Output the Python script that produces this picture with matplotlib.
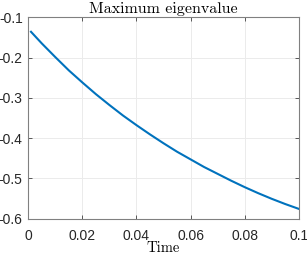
import matplotlib
matplotlib.use("Agg")
import matplotlib.pyplot as plt
import numpy as np

# values
time = [0.001, 0.005, 0.01, 0.015, 0.02, 0.025, 0.03, 0.035, 0.04, 0.045, 0.05,
        0.055, 0.06, 0.065, 0.07, 0.075, 0.08, 0.085, 0.09, 0.095, 0.1]
eig_max = [-0.136, -0.165, -0.199, -0.232, -0.262, -0.291, -0.318, -0.344, -0.368,
           -0.391, -0.413, -0.434, -0.453, -0.472, -0.489, -0.506, -0.522, -0.537,
           -0.551, -0.564, -0.576]
xticks = [0, 0.02, 0.04, 0.06, 0.08, 0.1]
yticks = [-0.6, -0.5, -0.4, -0.3, -0.2, -0.1]

fig = plt.figure(figsize=(3.07, 2.54), dpi=100)
ax = fig.add_axes([28.3 / 307, 1 - 218.5 / 254, 270.4 / 307, 201.2 / 254])

ax.plot(time, eig_max, color='#0072BD', linewidth=1.5)
ax.set_xlim(0, 0.1)
ax.set_ylim(-0.6, -0.1)
ax.set_xticks(xticks)
ax.set_xticklabels(['0', '0.02', '0.04', '0.06', '0.08', '0.1'])
ax.set_yticks(yticks)
ax.set_yticklabels(['-0.6', '-0.5', '-0.4', '-0.3', '-0.2', '-0.1'])

ax.grid(True, color='#ebebeb', linewidth=0.7)
ax.set_axisbelow(True)
ax.tick_params(direction='in', length=3, width=0.6, colors='#404040',
               top=True, right=True, labelsize=10, labelcolor='#262626')
ax.tick_params(axis='x', pad=7.5)
ax.tick_params(axis='y', pad=4)
for lab in ax.get_xticklabels() + ax.get_yticklabels():
    lab.set_fontfamily('Liberation Sans')
for s in ax.spines.values():
    s.set_color('#808080')
    s.set_linewidth(0.8)

ax.set_title('Maximum eigenvalue', fontfamily='cmr10', fontsize=11.5, pad=3)
ax.set_xlabel('Time', fontfamily='cmr10', fontsize=10.5, va='baseline')
ax.xaxis.set_label_coords(0.5, (218.5 - 252.3) / 201.2)

fig.savefig('out.png', dpi=100)
